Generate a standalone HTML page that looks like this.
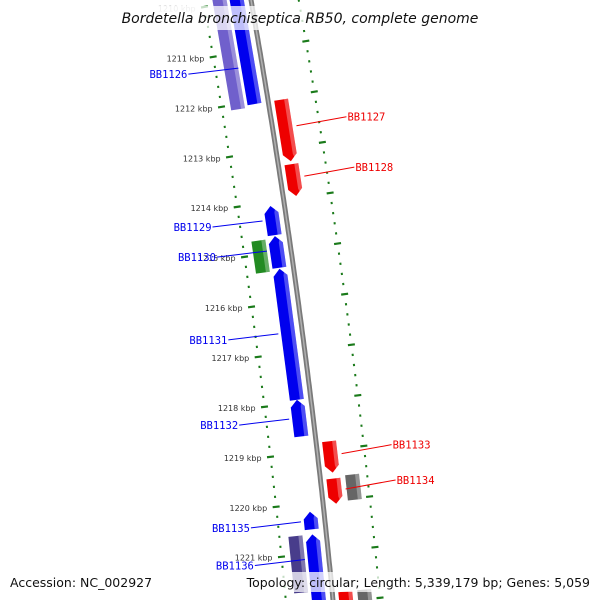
<!DOCTYPE html>
<html><head><meta charset="utf-8"><style>
body{margin:0;background:#fff}
svg{display:block}
.tl{font:8px "DejaVu Sans","Liberation Sans",sans-serif;fill:#333}
.gl{font:10.5px "DejaVu Sans Mono","Liberation Mono",monospace}
</style></head><body>
<svg id="c" width="600" height="600" viewBox="0 0 600 600" xmlns="http://www.w3.org/2000/svg">
<defs>
<linearGradient id="bb" x1="0" x2="1"><stop offset="0" stop-color="#777"/><stop offset="0.6" stop-color="#aaa"/><stop offset="1" stop-color="#777"/></linearGradient>
</defs>
<g id="ruler"></g>
<g id="genes"></g>
<g id="labels"></g>
<rect x="122" y="6" width="356" height="24" fill="#fff" opacity="0.75"/>
<text x="300" y="23" text-anchor="middle" style="font:italic 14px 'DejaVu Sans','Liberation Sans',sans-serif" fill="#111">Bordetella bronchiseptica RB50, complete genome</text>
<text x="10" y="587" style="font:12.5px 'DejaVu Sans','Liberation Sans',sans-serif" fill="#111">Accession: NC_002927</text>
<rect x="259" y="572" width="334" height="20" fill="#fff" opacity="0.75"/>
<text x="590" y="587" text-anchor="end" style="font:12.5px 'DejaVu Sans','Liberation Sans',sans-serif" fill="#111">Topology: circular; Length: 5,339,179 bp; Genes: 5,059</text>
</svg>
<script>
const geneNames=["BB1126a","BB1126","BB1127","BB1128","BB1129","BB1130g","BB1130","BB1131","BB1132","BB1133","BB1134","BB1134g","BB1135","BB1136","BB1136p","BB1137","BB1137g"];
const geneStart=[1209.8,1209.8,1212.05,1213.33,1214.08,1214.72,1214.68,1215.33,1217.94,1218.83,1219.57,1219.53,1220.17,1220.62,1220.62,1221.81,1221.81];
const geneEnd=[1212.1,1212.05,1213.27,1213.96,1214.66,1215.36,1215.31,1217.94,1218.67,1219.45,1220.07,1220.03,1220.52,1222.2,1221.75,1222.3,1222.3];
const geneTrack=[-31,-14,13,13,-14,-31,-14,-14,-14,13,13,32,-14,-14,-31,13,32];
const geneDir=[0,0,1,1,-1,0,-1,-1,-1,1,1,0,-1,-1,0,1,0];
const geneColor=["#7060cc","#0000ee","#ee0000","#ee0000","#0000ee","#228b22","#0000ee","#0000ee","#0000ee","#ee0000","#ee0000","#666666","#0000ee","#0000ee","#483d8b","#ee0000","#666666"];
const labelText=["BB1126","BB1127","BB1128","BB1129","BB1130","BB1131","BB1132","BB1133","BB1134","BB1135","BB1136"];
const labelKbp=[1211.3,1212.6,1213.6,1214.35,1214.95,1216.6,1218.3,1219.1,1219.8,1220.35,1221.1];
const labelSide=[-1,1,1,-1,-1,-1,-1,1,1,-1,-1];
const tickMin=1210, tickMax=1222;
const NS="http://www.w3.org/2000/svg";
function Y(k){return 49+(k-1211)*50.3;}
function bx(y){return 251+0.1767*y-6.67e-5*y*y;}
function P(k,off){const y=Y(k),t=0.1767-2*6.67e-5*y,n=Math.sqrt(1+t*t);return [bx(y)+off/n,y-off*t/n,t/n,1/n];}
function mk(tag,attrs,parent){const e=document.createElementNS(NS,tag);for(const a in attrs)e.setAttribute(a,attrs[a]);parent.appendChild(e);return e;}
const svg=document.getElementById('c');
// backbone
let d="";for(let k=1209.7;k<=1222.3;k+=0.1){const p=P(k,0);d+=(d?"L":"M")+p[0].toFixed(1)+","+p[1].toFixed(1);}
const bbE=mk('path',{d:d,stroke:"#7a7a7a","stroke-width":5,fill:"none"},svg);


svg.insertBefore(bbE,document.getElementById('genes'));
const bb2=mk('path',{d:d,stroke:"#b0b0b0","stroke-width":1.5,fill:"none"},svg);


svg.insertBefore(bb2,document.getElementById('genes'));
// ruler
const R=document.getElementById('ruler');
for(let i=Math.round(tickMin*5);i<=tickMax*5;i++){const k=i/5,major=i%5===0;
 [-47,47].forEach(off=>{const len=major?7:2;const a=P(k,off-len/2*(off<0?1:1)),b=P(k,off+len/2);
  const ln=mk('line',{x1:a[0],y1:a[1],x2:b[0],y2:b[1],stroke:"#1a7a1a","stroke-width":2.2},R);
  
  });
 if(major){const p=P(k,-56);const tx=mk('text',{x:p[0],y:p[1]+3,"text-anchor":"end",class:"tl"},R);tx.textContent=k+" kbp";
  
  
  if(k===1210)tx.setAttribute('opacity','0.3');}}
// genes
const G=document.getElementById('genes');
function poly(k1,k2,o1,o2,dir,head){const pts=[];
 const a1=P(k1,o1),a2=P(k1,o2),b1=P(k2,o1),b2=P(k2,o2),mid1=P(k1,(o1+o2)/2),mid2=P(k2,(o1+o2)/2);
 const hk=head/50.3;
 if(dir===1){const c1=P(k2-hk,o1),c2=P(k2-hk,o2);return [a1,c1,mid2,c2,a2];}
 if(dir===-1){const c1=P(k1+hk,o1),c2=P(k1+hk,o2);return [mid1,c1,b1,b2,c2];}
 return [a1,b1,b2,a2];}
for(let i=0;i<geneNames.length;i++){const off=geneTrack[i],w=7;
 const pts=poly(geneStart[i],geneEnd[i],off-w,off+w,geneDir[i],7);
 const pg=mk('polygon',{points:pts.map(p=>p[0].toFixed(1)+","+p[1].toFixed(1)).join(" "),fill:geneColor[i]},G);
 
 
 const st=poly(geneStart[i],geneEnd[i],off+w-4,off+w,geneDir[i],7);
 const s=mk('polygon',{points:st.map(p=>p[0].toFixed(1)+","+p[1].toFixed(1)).join(" "),fill:"#fff",opacity:0.3},G);
 
 }
// labels
const L=document.getElementById('labels');
for(let i=0;i<labelText.length;i++){const sd=labelSide[i];const a=P(labelKbp[i],sd*24);const bxp=a[0]+sd*50,byp=a[1]+sd*(-9)*(sd<0?-1:1);
 const col=sd<0?"#0000ee":"#ee0000";
 const ey=sd<0?a[1]+6:a[1]-9;
 const ln=mk('line',{x1:a[0],y1:a[1],x2:bxp,y2:ey,stroke:col,"stroke-width":1},L);
 
 
 const t=mk('text',{x:bxp+(sd<0?-1:1),y:ey+4,"text-anchor":sd<0?"end":"start",class:"gl",fill:col},L);t.textContent=labelText[i];
 
 }
</script>
</body></html>
